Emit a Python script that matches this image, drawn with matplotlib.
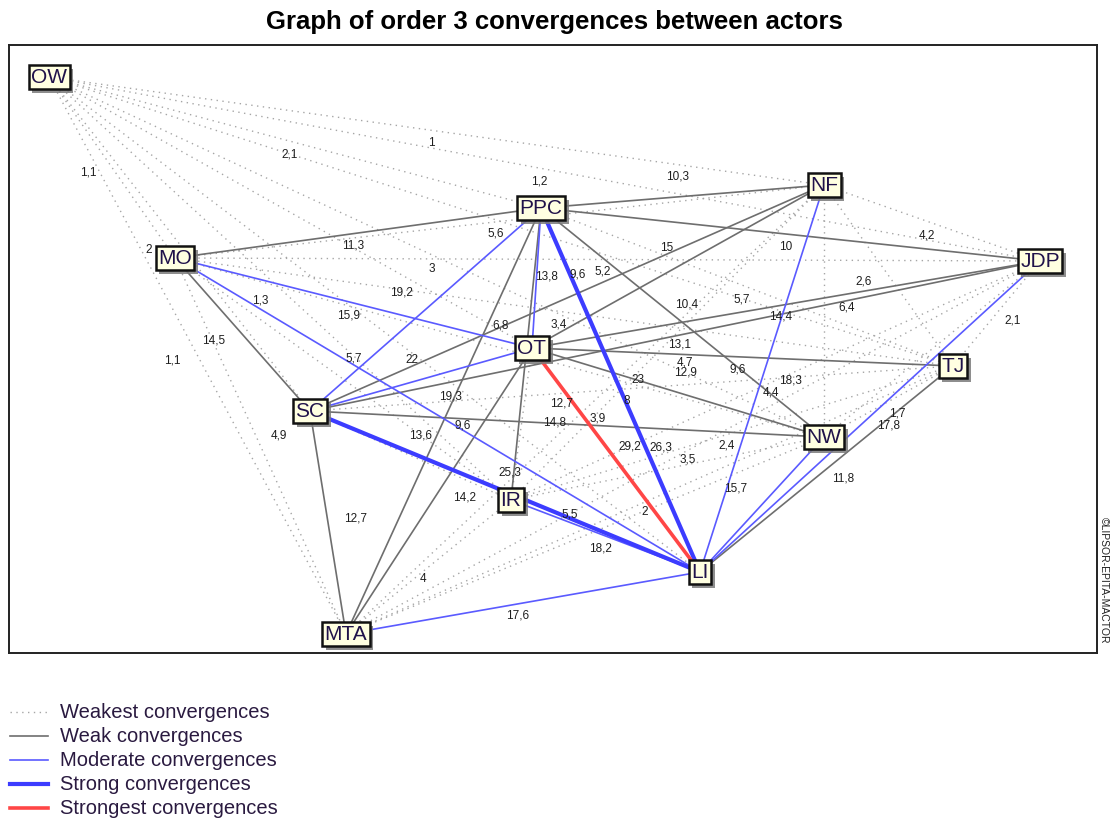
import matplotlib
matplotlib.use("Agg")
import matplotlib.pyplot as plt
import matplotlib.patheffects as pe
from matplotlib.lines import Line2D
from itertools import combinations

plt.rcParams['font.family'] = ['Liberation Sans', 'DejaVu Sans']

# actors and their place on the map (canvas units)
actors = ["OW", "MO", "PPC", "NF", "JDP", "OT", "SC", "TJ", "NW", "IR", "LI", "MTA"]
map_x = [49, 175, 541, 824, 1040, 532, 310, 953, 824, 511, 700, 346]
map_y = [77, 258, 208, 185, 261, 348, 411, 366, 437, 500, 572, 634]

# convergence classes, every pair not listed is a weakest convergence
strongest_pairs = [("OT", "LI")]
strong_pairs = [("PPC", "LI"), ("SC", "LI")]
moderate_pairs = [("PPC", "SC"), ("PPC", "OT"), ("MO", "OT"), ("MO", "LI"), ("SC", "OT"),
                  ("NF", "LI"), ("JDP", "LI"), ("NW", "LI"), ("MTA", "LI"), ("IR", "LI")]
weak_pairs = [("MO", "PPC"), ("MO", "SC"), ("PPC", "NF"), ("PPC", "JDP"), ("PPC", "NW"),
              ("PPC", "MTA"), ("PPC", "IR"), ("NF", "OT"), ("NF", "SC"), ("JDP", "OT"),
              ("JDP", "SC"), ("OT", "TJ"), ("OT", "NW"), ("OT", "MTA"), ("SC", "MTA"),
              ("SC", "NW"), ("TJ", "LI")]

# order 3 convergence values (None = label hidden on the original)
convergence = {
    ("OW", "MO"): 1.1, ("OW", "PPC"): 2.1, ("OW", "NF"): 1, ("OW", "JDP"): 1.2,
    ("OW", "OT"): None, ("OW", "SC"): 2, ("OW", "TJ"): 5.6, ("OW", "NW"): 3,
    ("OW", "IR"): 1.3, ("OW", "LI"): 5.7, ("OW", "MTA"): 1.1,
    ("MO", "PPC"): 11.3, ("MO", "NF"): None, ("MO", "JDP"): 5.2, ("MO", "OT"): 15.9,
    ("MO", "SC"): 14.5, ("MO", "TJ"): 3.4, ("MO", "NW"): 6.8, ("MO", "IR"): None,
    ("MO", "LI"): 19.3, ("MO", "MTA"): 4.9,
    ("PPC", "NF"): 10.3, ("PPC", "JDP"): 10, ("PPC", "OT"): 13.8, ("PPC", "SC"): 19.2,
    ("PPC", "TJ"): 5.7, ("PPC", "NW"): 10.4, ("PPC", "IR"): 12.7, ("PPC", "LI"): 23,
    ("PPC", "MTA"): 13.6,
    ("NF", "JDP"): 4.2, ("NF", "OT"): 15, ("NF", "SC"): 9.6, ("NF", "TJ"): 2.6,
    ("NF", "NW"): 6.4, ("NF", "IR"): 4.7, ("NF", "LI"): 18.3, ("NF", "MTA"): 3.9,
    ("JDP", "OT"): 14.4, ("JDP", "SC"): 13.1, ("JDP", "TJ"): 2.1, ("JDP", "NW"): None,
    ("JDP", "IR"): 4.4, ("JDP", "LI"): 17.8, ("JDP", "MTA"): 3.5,
    ("OT", "SC"): 22, ("OT", "TJ"): 9.6, ("OT", "NW"): 12.9, ("OT", "IR"): 9.6,
    ("OT", "LI"): 29.2, ("OT", "MTA"): 14.2,
    ("SC", "TJ"): 8, ("SC", "NW"): 14.8, ("SC", "IR"): None, ("SC", "LI"): 25.3,
    ("SC", "MTA"): 12.7,
    ("TJ", "NW"): 1.7, ("TJ", "IR"): 2.4, ("TJ", "LI"): 11.8, ("TJ", "MTA"): 2,
    ("NW", "IR"): 26.3, ("NW", "LI"): 15.7, ("NW", "MTA"): 5.5,
    ("IR", "LI"): 18.2, ("IR", "MTA"): 4, ("LI", "MTA"): 17.6,
}

legend_names = ["Weakest convergences", "Weak convergences", "Moderate convergences",
                "Strong convergences", "Strongest convergences"]

styles = [
    dict(color="#a6a6a6", lw=1.0, ls=(0, (1, 3.2))),
    dict(color="#6e6e6e", lw=1.2, ls="-"),
    dict(color="#5a5aff", lw=1.2, ls="-"),
    dict(color="#3c3cff", lw=3.0, ls="-"),
    dict(color="#ff4646", lw=2.6, ls="-"),
]

# value labels sit a bit below-left of the edge middle; some are moved to keep them apart
label_nudge = {
    ("MO", "LI"): (18, -31), ("PPC", "MTA"): (-18, 2), ("SC", "LI"): (10, -31),
    ("PPC", "IR"): (41, 37), ("PPC", "LI"): (22, -22), ("OT", "IR"): (-54, -11),
    ("NF", "SC"): (16, -36), ("PPC", "OT"): (15, -14), ("NF", "OT"): (-6, -31),
    ("MO", "NW"): (6, -34), ("NF", "IR"): (22, 8), ("PPC", "NW"): (9, -30),
    ("OT", "NW"): (12, -32), ("NW", "IR"): (-2, -33), ("OT", "LI"): (19, -26),
    ("OT", "SC"): (-4, -32), ("OT", "MTA"): (31, -6), ("SC", "NW"): (-7, -14),
    ("NF", "MTA"): (18, -3), ("OW", "LI"): (-16, 22), ("PPC", "SC"): (-19, -29),
    ("PPC", "NF"): (0, -32), ("NW", "MTA"): (-10, -33), ("NF", "NW"): (28, -16),
    ("NF", "LI"): (33, -10), ("JDP", "LI"): (24, -3), ("NW", "LI"): (-21, -28),
    ("TJ", "LI"): (22, -3), ("SC", "MTA"): (33, -16), ("MO", "MTA"): (23, -23),
    ("MO", "SC"): (-24, -6), ("OW", "MTA"): (-20, -7), ("OW", "SC"): (-26, -6),
    ("OW", "MO"): (-19, -7), ("OW", "IR"): (-15, 0), ("JDP", "TJ"): (21, -5),
    ("NF", "TJ"): (-20, -6), ("TJ", "NW"): (14, 0), ("JDP", "SC"): (10, -4),
}


def level_of(a, b):
    for lvl, group in ((4, strongest_pairs), (3, strong_pairs), (2, moderate_pairs), (1, weak_pairs)):
        if (a, b) in group or (b, a) in group:
            return lvl
    return 0


def value_of(a, b):
    if (a, b) in convergence:
        return convergence[(a, b)]
    return convergence.get((b, a))


W, H = 1111, 821
fig = plt.figure(figsize=(W / 100, H / 100), dpi=100)
ax = fig.add_axes([9 / W, 1 - 653 / H, (1097 - 9) / W, (653 - 45) / H])
ax.set_xlim(9, 1097)
ax.set_ylim(653, 45)
ax.set_xticks([])
ax.set_yticks([])
for s in ax.spines.values():
    s.set_linewidth(1.4)
    s.set_color("#222222")

xy = dict(zip(actors, zip(map_x, map_y)))

# edges
for a, b in combinations(actors, 2):
    lvl = level_of(a, b)
    st = styles[lvl]
    (x1, y1), (x2, y2) = xy[a], xy[b]
    ax.plot([x1, x2], [y1, y2], color=st["color"], lw=st["lw"], ls=st["ls"],
            zorder=1 + lvl, solid_capstyle="butt")
    v = value_of(a, b)
    if v is not None:
        dx, dy = label_nudge.get((a, b), (0, 0))
        txt = f"{v:g}".replace(".", ",")
        ax.text((x1 + x2) / 2 - 5 + dx, (y1 + y2) / 2 + 12 + dy, txt, fontsize=8.5,
                color="#1e1e1e", ha="center", va="center", zorder=7)

# actor boxes with drop shadow
for name in actors:
    x, y = xy[name]
    t = ax.text(x, y, name, fontsize=15, color="#20124a", ha="center", va="center", zorder=10,
                bbox=dict(boxstyle="square,pad=0.12", fc="#ffffe1", ec="#111111", lw=1.8))
    t.get_bbox_patch().set_path_effects([
        pe.SimplePatchShadow(offset=(2.6, -2.6), shadow_rgbFace="#7a7a7a", alpha=0.85),
        pe.Normal()])

fig.text(0.499, 1 - 22 / H, "Graph of order 3 convergences between actors",
         fontsize=18.5, fontweight="bold", ha="center", va="center")

fig.text(1104 / W, 1 - 580 / H, "\u00a9LIPSOR-EPITA-MACTOR", rotation=270,
         fontsize=7.5, ha="center", va="center", color="#222222")

# legend, drawn row by row under the map
for i, (name, st) in enumerate(zip(legend_names, styles)):
    yy = 1 - (712 + 24 * i) / H
    fig.add_artist(Line2D([10 / W, 48 / W], [yy, yy], color=st["color"], lw=st["lw"],
                          ls=st["ls"], transform=fig.transFigure))
    fig.text(60 / W, yy, name, fontsize=14.5, color="#2a1a40", ha="left", va="center")

fig.savefig("out.png", dpi=100)
